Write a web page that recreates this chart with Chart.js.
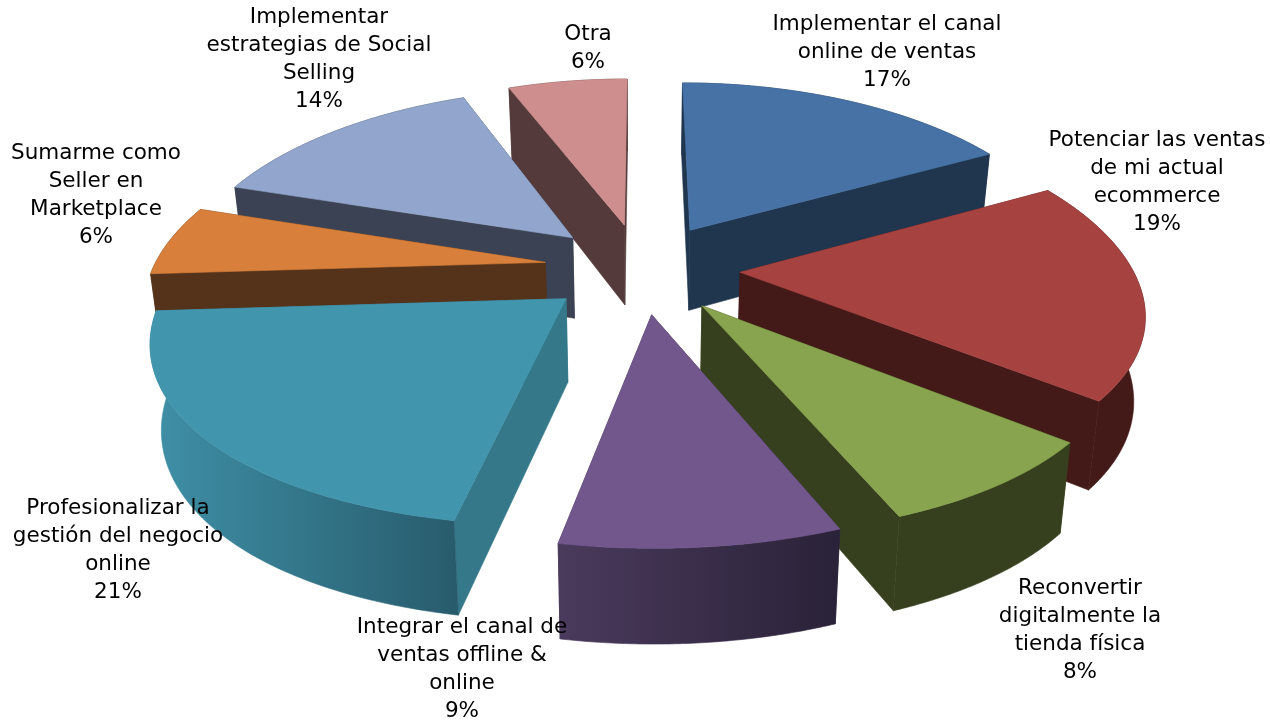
<!DOCTYPE html>
<html>
<head>
<meta charset="utf-8">
<script src="https://cdn.jsdelivr.net/npm/chart.js@4"></script>
<style>
  html, body { margin: 0; background: #fff; }
  #wrap { width: 1270px; height: 720px; }
</style>
</head>
<body>
<div id="wrap"><canvas id="pieChart"></canvas></div>
<script>
const categories = [
    ["Implementar el canal", "online de ventas"],
    ["Potenciar las ventas", "de mi actual", "ecommerce"],
    ["Reconvertir", "digitalmente la", "tienda física"],
    ["Integrar el canal de", "ventas offline &", "online"],
    ["Profesionalizar la", "gestión del negocio", "online"],
    ["Sumarme como", "Seller en", "Marketplace"],
    ["Implementar", "estrategias de Social", "Selling"],
    ["Otra"]
]
const percents = [17, 19, 8, 9, 21, 6, 14, 6]

const topColors = ["#4672A6", "#A64341", "#88A44E", "#72578D", "#4195AD", "#D8803B", "#92A6CD", "#CE8E8E"]
const radialWallColors = ["#20364F", "#441A18", "#37401E", "#3A2D4A", "#34788A", "#55331A", "#3A4253", "#543A3A"]
const outerWallLeft = ["#20364F", "#441A18", "#37401E", "#4A3A5C", "#3F90A7", "#55331A", "#3A4253", "#543A3A"]
const outerWallRight = ["#20364F", "#441A18", "#37401E", "#2A2238", "#285C6D", "#55331A", "#3A4253", "#543A3A"]

// back to front, same order the slices overlap in the picture
const drawOrder = [7, 6, 0, 5, 4, 1, 2, 3]

// centre of each label, first line
const labelSpots = [
    [887, 24], [1157, 140], [1080, 588], [462, 627],
    [118, 508], [96, 153], [319, 17], [588, 34]
]
const labelFont = "21.5px 'DejaVu Sans', sans-serif"
const lineHeight = 28.3

// camera for the tilted pie
const view = { cx: 642, cy: 268, a: 392, k: 181, px: 0.19, py: 0.155, depth: 82, q: 0.115, shrink: 0.977 }

const project = (gx, gy, bottom) => {
    let x = view.a * gx / (1 + view.px * gy)
    let y = view.cy - view.k * gy / (1 + view.py * gy)
    if (bottom) {
        x *= view.shrink
        y += view.depth / (1 + view.q * gy)
    }
    return [view.cx + x, y]
}

const tracePath = (ctx, pts) => {
    ctx.beginPath()
    pts.forEach((pt, i) => i ? ctx.lineTo(pt[0], pt[1]) : ctx.moveTo(pt[0], pt[1]))
    ctx.closePath()
}

const fillShape = (ctx, pts, fill) => {
    tracePath(ctx, pts)
    ctx.fillStyle = fill
    ctx.strokeStyle = fill
    ctx.lineWidth = 0.6
    ctx.fill()
    ctx.stroke()
}

const drawSlice = (ctx, arc, i) => {
    const { startAngle, endAngle, outerRadius } = arc.getProps(["startAngle", "endAngle", "outerRadius"], true)
    const mid = (startAngle + endAngle) / 2
    const burst = arc.options.offset / outerRadius
    const ax = burst * Math.cos(mid)
    const ay = -burst * Math.sin(mid)

    const rim = []
    const steps = 64
    for (let s = 0; s <= steps; s++) {
        const t = startAngle + (endAngle - startAngle) * s / steps
        rim.push([ax + Math.cos(t), ay - Math.sin(t)])
    }
    const first = rim[0]
    const last = rim[steps]

    const radialWall = (g) => [
        project(ax, ay, false), project(g[0], g[1], false),
        project(g[0], g[1], true), project(ax, ay, true)
    ]
    const outerTop = rim.map(g => project(g[0], g[1], false))
    const outerBottom = rim.map(g => project(g[0], g[1], true)).reverse()
    const xs = outerTop.map(pt => pt[0])
    const grad = ctx.createLinearGradient(Math.min(...xs), 0, Math.max(...xs), 0)
    grad.addColorStop(0, outerWallLeft[i])
    grad.addColorStop(1, outerWallRight[i])

    // far faces first, the prism is convex so the top can go last
    const walls = [
        { y: (ay + first[1]) / 2, pts: radialWall(first), fill: radialWallColors[i] },
        { y: (ay + last[1]) / 2, pts: radialWall(last), fill: radialWallColors[i] },
        { y: ay + Math.sin(-mid), pts: outerTop.concat(outerBottom), fill: grad }
    ]
    walls.sort((a, b) => b.y - a.y).forEach(w => fillShape(ctx, w.pts, w.fill))

    fillShape(ctx, [project(ax, ay, false)].concat(outerTop), topColors[i])
}

const pie3d = {
    id: "pie3d",
    beforeDatasetsDraw(chart) {
        const arcs = chart.getDatasetMeta(0).data
        const ctx = chart.ctx
        ctx.save()
        drawOrder.forEach(i => drawSlice(ctx, arcs[i], i))
        ctx.restore()
        return false
    },
    afterDraw(chart) {
        const ctx = chart.ctx
        ctx.save()
        ctx.font = labelFont
        ctx.fillStyle = "#000"
        ctx.textAlign = "center"
        ctx.textBaseline = "middle"
        chart.data.labels.forEach((lines, i) => {
            const [x, y] = labelSpots[i]
            lines.concat(percents[i] + "%").forEach((line, n) => ctx.fillText(line, x, y + n * lineHeight))
        })
        ctx.restore()
    }
}

new Chart(document.getElementById("pieChart"), {
    type: "pie",
    data: {
        labels: categories,
        datasets: [{
            data: percents,
            backgroundColor: topColors,
            offset: 80,
            borderWidth: 0
        }]
    },
    options: {
        responsive: true,
        maintainAspectRatio: false,
        animation: false,
        plugins: { legend: { display: false }, tooltip: { enabled: false } }
    },
    plugins: [pie3d]
})
</script>
</body>
</html>
